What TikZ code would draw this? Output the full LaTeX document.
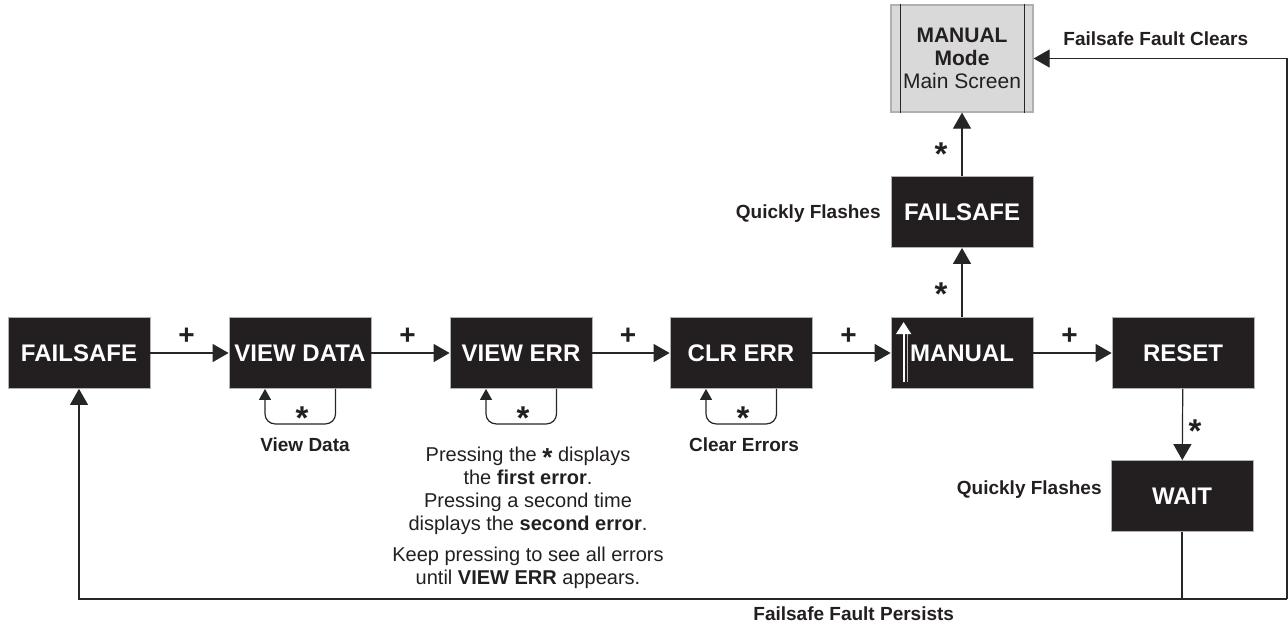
\documentclass[tikz,border=0pt]{standalone}
\usepackage{fontspec}
\setmainfont{Liberation Sans}
\usetikzlibrary{arrows.meta,positioning,calc}
\definecolor{boxink}{HTML}{231F20}
\definecolor{scrfill}{HTML}{D9D9D9}
\definecolor{scredge}{HTML}{B0B0B0}
\definecolor{wire}{HTML}{262626}

\begin{document}
\begin{tikzpicture}[
    x=0.5pt, y=-0.5pt,
    % black display states, white bold caption
    state/.style={draw=gray!60, line width=0.4pt, fill=boxink, text=white,
                  minimum width=71pt, minimum height=35.5pt, inner sep=0pt,
                  font=\fontsize{12}{14}\selectfont\bfseries},
    screen/.style={draw=scredge, line width=0.6pt, fill=scrfill, text=boxink, align=center,
                   minimum width=71pt, minimum height=53.5pt, inner sep=0pt,
                   font=\fontsize{10.5}{11.5}\selectfont},
    flow/.style={-{Triangle[length=8pt,width=9pt]}, line width=0.6pt, draw=wire},
    wire/.style={line width=0.6pt, draw=wire},
    loopback/.style={-{Triangle[length=5.5pt,width=6pt]}, line width=0.6pt, draw=wire,
                     rounded corners=5pt},
    pluskey/.style={font=\fontsize{14}{14}\selectfont\bfseries, text=boxink, inner sep=0pt},
    presskey/.style={font=\fontsize{16.5}{16.5}\selectfont\bfseries, text=boxink, inner sep=0pt,
                     yshift=-4.5pt},
    note/.style={font=\fontsize{9.5}{11}\selectfont\bfseries, text=boxink, inner sep=0pt},
    helptext/.style={font=\fontsize{10}{11.5}\selectfont, text=boxink, align=center, inner sep=0pt},
]
\useasboundingbox (0,0) rectangle (1288,628);

%================= main row of displays =================%
\node[state] (fs)   at (79,353)   {FAILSAFE};
\node[state] (vd)   at (300,353)  {VIEW DATA};
\node[state] (ve)   at (521,353)  {VIEW ERR};
\node[state] (ce)   at (741,353)  {CLR ERR};
\node[state] (man)  at (962,353)  {MANUAL};
\node[state] (rst)  at (1183,353) {RESET};

%================= upper and lower branches =================%
\node[state]  (fs2)  at (962,212)  {FAILSAFE};
\node[screen] (scr)  at (962,58.5) {\textbf{MANUAL}\\\textbf{Mode}\\Main Screen};
\node[state]  (wait) at (1182,496) {WAIT};

% screen frame lines
\draw[line width=0.6pt, draw=gray!30!black] ([xshift=5pt]scr.north west) -- ([xshift=5pt]scr.south west);
\draw[line width=0.6pt, draw=gray!30!black] ([xshift=-4.5pt]scr.north east) -- ([xshift=-4.5pt]scr.south east);

% up arrow inside MANUAL
\draw[line width=0.5pt, draw=gray!55] ($(man.south west)+(16.5,-7)$) -- ($(man.north west)+(16.5,14)$);
\draw[line width=0.9pt, draw=white, -{Triangle[length=6pt,width=7.5pt]}]
     ($(man.south west)+(13,-7)$) -- ($(man.north west)+(13,5)$);

%================= + key steps =================%
\foreach \a/\b [count=\i] in {fs/vd, vd/ve, ve/ce, ce/man, man/rst}
  \draw[flow] (\a) -- (\b) node[pluskey, midway, above=4pt, xshift=-1.5pt] (plus\i) {+};

%================= * key steps =================%
\draw[flow] (man) -- (fs2);
\node[presskey] (st1) at (941,285) {*};
\draw[flow] (fs2) -- (scr);
\node[presskey] (st2) at (941,145) {*};
\draw[flow] (rst) -- (wait);
\node[presskey] (st3) at (1195,422) {*};

% self loops under the menu items
\foreach \n [count=\i] in {vd, ve, ce} {
  \draw[loopback] ([xshift=17.75pt]\n.south) -- ++(0,35) -| ([xshift=-17.5pt]\n.south);
  \node[presskey] (lst\i) at ($(\n.south)+(2,20)$) {*};
}

%================= fault loop =================%
\coordinate (rbot) at (1287,599);
\draw[flow] (rbot) |- (scr.east);
\draw[flow] (rbot) -| (fs.south);
\draw[wire] (wait) -- (wait |- rbot);

%================= labels =================%
\node[note] (vdnote) at (305,445) {View Data};
\node[note] (cenote) at (744,445) {Clear Errors};
\node[note, anchor=east] (flash1) at (881,214) {Quickly Flashes};
\node[note, anchor=east] (flash2) at (1102,490) {Quickly Flashes};
\node[note, anchor=west] (clears) at (1063,39) {Failsafe Fault Clears};
\node[note, anchor=west] (persist) at (753,614) {Failsafe Fault Persists};
\node[helptext, anchor=north] (errhelp) at (528,447)
  {Pressing the {\fontsize{13}{11.5}\selectfont\bfseries\raisebox{-0.35ex}{*}} displays\\
   the \textbf{first error}.\\Pressing a second time\\
   displays the \textbf{second error}.\\[4pt]Keep pressing to see all errors\\
   until \textbf{VIEW ERR} appears.};

\end{tikzpicture}
\end{document}
